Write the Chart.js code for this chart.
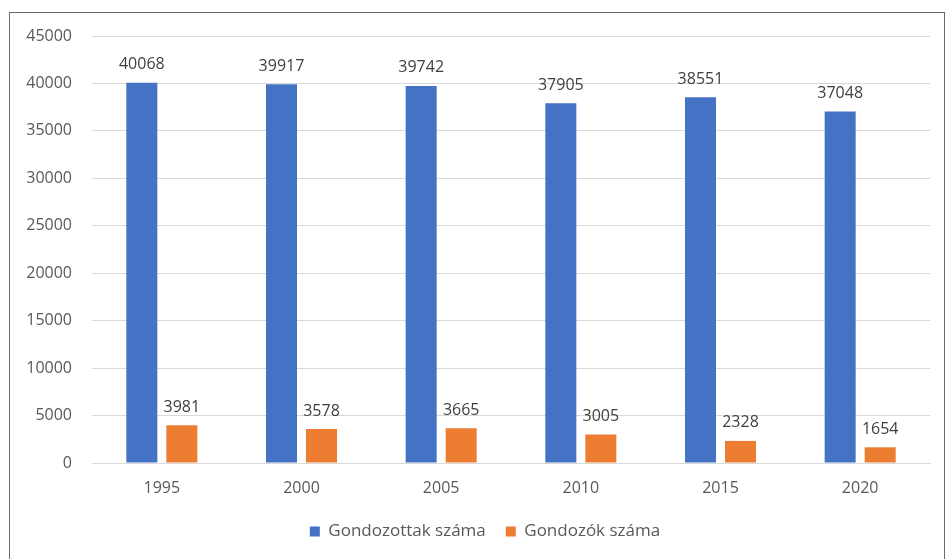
<!DOCTYPE html>
<html>
<head>
<meta charset="utf-8">
<script src="https://cdn.jsdelivr.net/npm/chart.js@4.4.0/dist/chart.umd.min.js"></script>
<style>
  html, body { margin: 0; padding: 0; background: #fff; }
  #wrap { position: relative; width: 946px; height: 559px; overflow: hidden; }
  #frame { position: absolute; left: 9px; top: 12px; width: 934px; height: 600px; border: 1px solid #6b6b6b; }
  #chart { position: absolute; left: 0; top: 0; }
</style>
</head>
<body>
<div id="wrap">
  <div id="frame"></div>
  <canvas id="chart" width="946" height="559"></canvas>
</div>
<script>
// évek és a két adatsor
var evek = ['1995', '2000', '2005', '2010', '2015', '2020'];
var gondozottak = [40068, 39917, 39742, 37905, 38551, 37048];
var gondozok = [3981, 3578, 3665, 3005, 2328, 1654];

var betu = "'Open Sans', 'Liberation Sans', sans-serif";

// értékek kiírása az oszlopok fölé
var ertekCimkek = {
	id: 'ertekCimkek',
	afterDatasetsDraw: function(chart) {
		var ctx = chart.ctx;
		ctx.save();
		ctx.font = '16px ' + betu;
		ctx.fillStyle = '#404040';
		ctx.textAlign = 'center';
		ctx.textBaseline = 'bottom';
		chart.data.datasets.forEach(function(ds, i) {
			chart.getDatasetMeta(i).data.forEach(function(bar, j) {
				ctx.fillText(ds.data[j], bar.x, bar.y - 10);
			});
		});
		ctx.restore();
	}
};

// a jelmagyarázat kicsit jobbra tolva
var legendEltolas = {
	id: 'legendEltolas',
	afterLayout: function(chart) {
		chart.legend.left += 40;
	}
};

var ctx = document.getElementById('chart').getContext('2d');
var chart = new Chart(ctx, {
	type: 'bar',
	data: {
		labels: evek,
		datasets: [{
			label: 'Gondozottak száma',
			backgroundColor: '#4472C4',
			data: gondozottak
		}, {
			label: 'Gondozók száma',
			backgroundColor: '#ED7D31',
			data: gondozok
		}]
	},
	options: {
		responsive: false,
		animation: false,
		categoryPercentage: 0.573,
		barPercentage: 0.775,
		layout: {
			padding: { left: 0, right: 16, top: 36, bottom: 9 }
		},
		plugins: {
			legend: {
				position: 'bottom',
				labels: {
					boxWidth: 10,
					boxHeight: 10,
					padding: 20,
					color: '#595959',
					font: { family: betu, size: 17 }
				}
			},
			tooltip: { enabled: false }
		},
		scales: {
			x: {
				grid: { display: false, drawTicks: false },
				border: { display: true, color: '#D9D9D9', width: 1 },
				ticks: { color: '#595959', padding: 16, font: { family: betu, size: 16 } },
				afterFit: function(scale) { scale.height = 40; }
			},
			y: {
				min: 0,
				max: 45000,
				grid: { color: '#D9D9D9', drawTicks: false },
				border: { display: false },
				ticks: {
					stepSize: 5000,
					color: '#595959',
					padding: 20,
					font: { family: betu, size: 16 },
					callback: function(v) { return String(v); }
				},
				afterFit: function(scale) { scale.width = 92; }
			}
		}
	},
	plugins: [ertekCimkek, legendEltolas]
});
</script>
</body>
</html>
